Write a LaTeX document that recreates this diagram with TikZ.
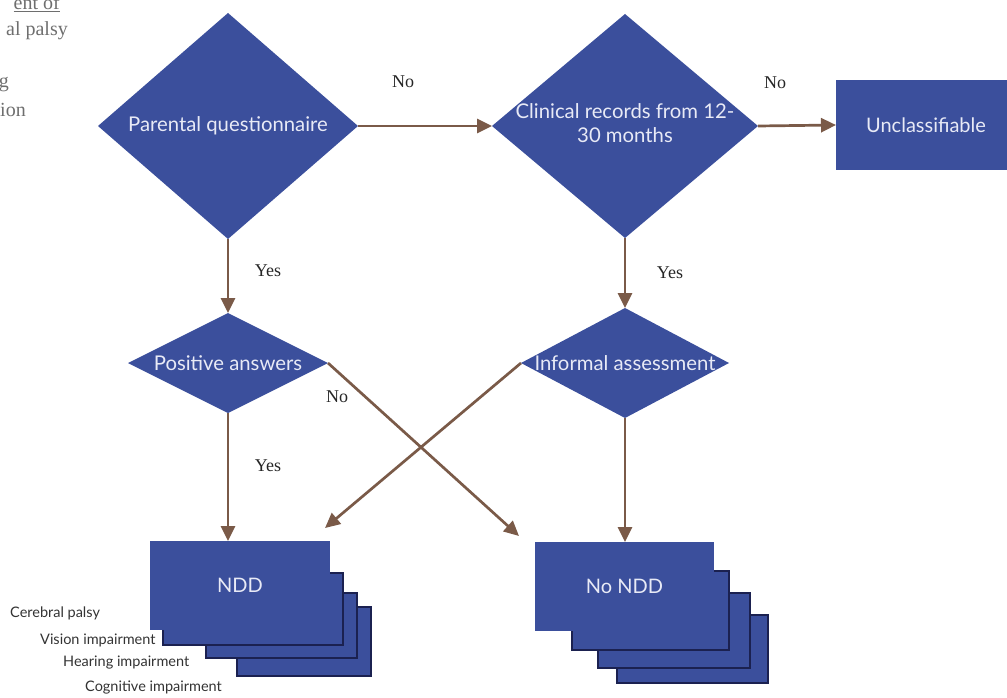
\documentclass[tikz,border=0pt]{standalone}
\usepackage{fontspec}
\setmainfont{Lato}
\newfontfamily\notefont{Liberation Serif}
\usetikzlibrary{shapes.geometric,arrows.meta}
\definecolor{boxblue}{HTML}{3B4F9C}
\definecolor{boxtext}{HTML}{E8EAF6}
\definecolor{arrowbrown}{HTML}{7A5A48}
\definecolor{edgenavy}{HTML}{1B2150}
\definecolor{notegray}{HTML}{6E6E6E}
\tikzset{
  decision/.style={diamond, fill=boxblue, draw=none, inner sep=0pt, outer sep=0pt,
    text=boxtext, font=\fontsize{20.3}{24}\selectfont},
  outcome/.style={rectangle, fill=boxblue, draw=none, inner sep=0pt, outer sep=0pt,
    text=boxtext, font=\fontsize{20}{24}\selectfont},
  backcard/.style={rectangle, fill=boxblue, draw=edgenavy, line width=1.3pt, inner sep=0pt, outer sep=0pt},
  flow/.style={draw=arrowbrown, line width=2.7pt, -{Triangle[length=15pt,width=14pt]}},
  answer/.style={font=\notefont\fontsize{18}{20}\selectfont, text=black!85, inner sep=0pt},
  diagnosis/.style={font=\fontsize{14.5}{16}\selectfont, text=black!80, inner sep=0pt, anchor=west},
  note/.style={font=\notefont\fontsize{20}{24}\selectfont, text=notegray, inner sep=0pt, anchor=base east},
}
\begin{document}
\begin{tikzpicture}[x=1pt,y=-1pt]
\useasboundingbox (0,0) rectangle (1007,698);

% fragments of surrounding text
\node[note] (n1) at (60,10) {\underline{ent of}};
\node[note] (n2) at (68,36) {al palsy};
\node[note] (n3) at (9,88) {g};
\node[note] (n4) at (26,117) {ion};

% decisions
\node[decision, minimum width=260, minimum height=226] (PQ) at (228,126)
  {\makebox[0pt]{Parental questionnaire}};
\node[decision, minimum width=266, minimum height=224] (CR) at (625,126)
  {\makebox[0pt]{\begin{tabular}{@{}c@{}}Clinical records from 12-\\30 months\end{tabular}}};
\node[decision, minimum width=200, minimum height=100] (PA) at (228,363)
  {\makebox[0pt]{Positive answers}};
\node[decision, minimum width=208, minimum height=110] (IA) at (625,363)
  {\makebox[0pt]{Informal assessment}};

% outcomes
\node[outcome, minimum width=180, minimum height=90] (UN) at (926,125) {Unclassifiable};

\node[backcard, minimum width=134, minimum height=69] (NDDd) at (304,641.5) {};
\node[backcard, minimum width=151, minimum height=65] (NDDc) at (281.5,625.5) {};
\node[backcard, minimum width=180, minimum height=72] (NDDb) at (253,609) {};
\node[outcome, minimum width=180, minimum height=89] (NDD) at (240,585.5) {NDD};

\node[backcard, minimum width=151, minimum height=68] (NNd) at (692.5,649) {};
\node[backcard, minimum width=152, minimum height=75] (NNc) at (674,630.5) {};
\node[backcard, minimum width=157, minimum height=79] (NNb) at (650.5,610.5) {};
\node[outcome, minimum width=179, minimum height=89] (NN) at (624.5,586.5) {No NDD};

% diagnosis list
\node[diagnosis] (d1) at (10,613) {Cerebral palsy};
\node[diagnosis] (d2) at (40,640) {Vision impairment};
\node[diagnosis] (d3) at (63,663) {Hearing impairment};
\node[diagnosis] (d4) at (85,688) {Cognitive impairment};

% connectors
\coordinate (toNN) at (519,536);
\coordinate (toNDD) at (325,528);
\draw[flow] (PQ.east) -- (CR.west);
\draw[flow] (CR.east) -- (UN.west);
\draw[flow] (PQ.south) -- (PA.north);
\draw[flow] (CR.south) -- (IA.north);
\draw[flow] (PA.south) -- (PA.south |- NDD.north);
\draw[flow] (IA.south) -- (IA.south |- NN.north);
\draw[flow] (PA.east) -- (toNN);
\draw[flow] (IA.west) -- (toNDD);

% answer labels
\node[answer] (a1) at (403,82) {No};
\node[answer] (a2) at (775,83) {No};
\node[answer] (a3) at (268,271) {Yes};
\node[answer] (a4) at (670,273) {Yes};
\node[answer] (a5) at (337,397) {No};
\node[answer] (a6) at (268,466) {Yes};
\end{tikzpicture}
\end{document}
